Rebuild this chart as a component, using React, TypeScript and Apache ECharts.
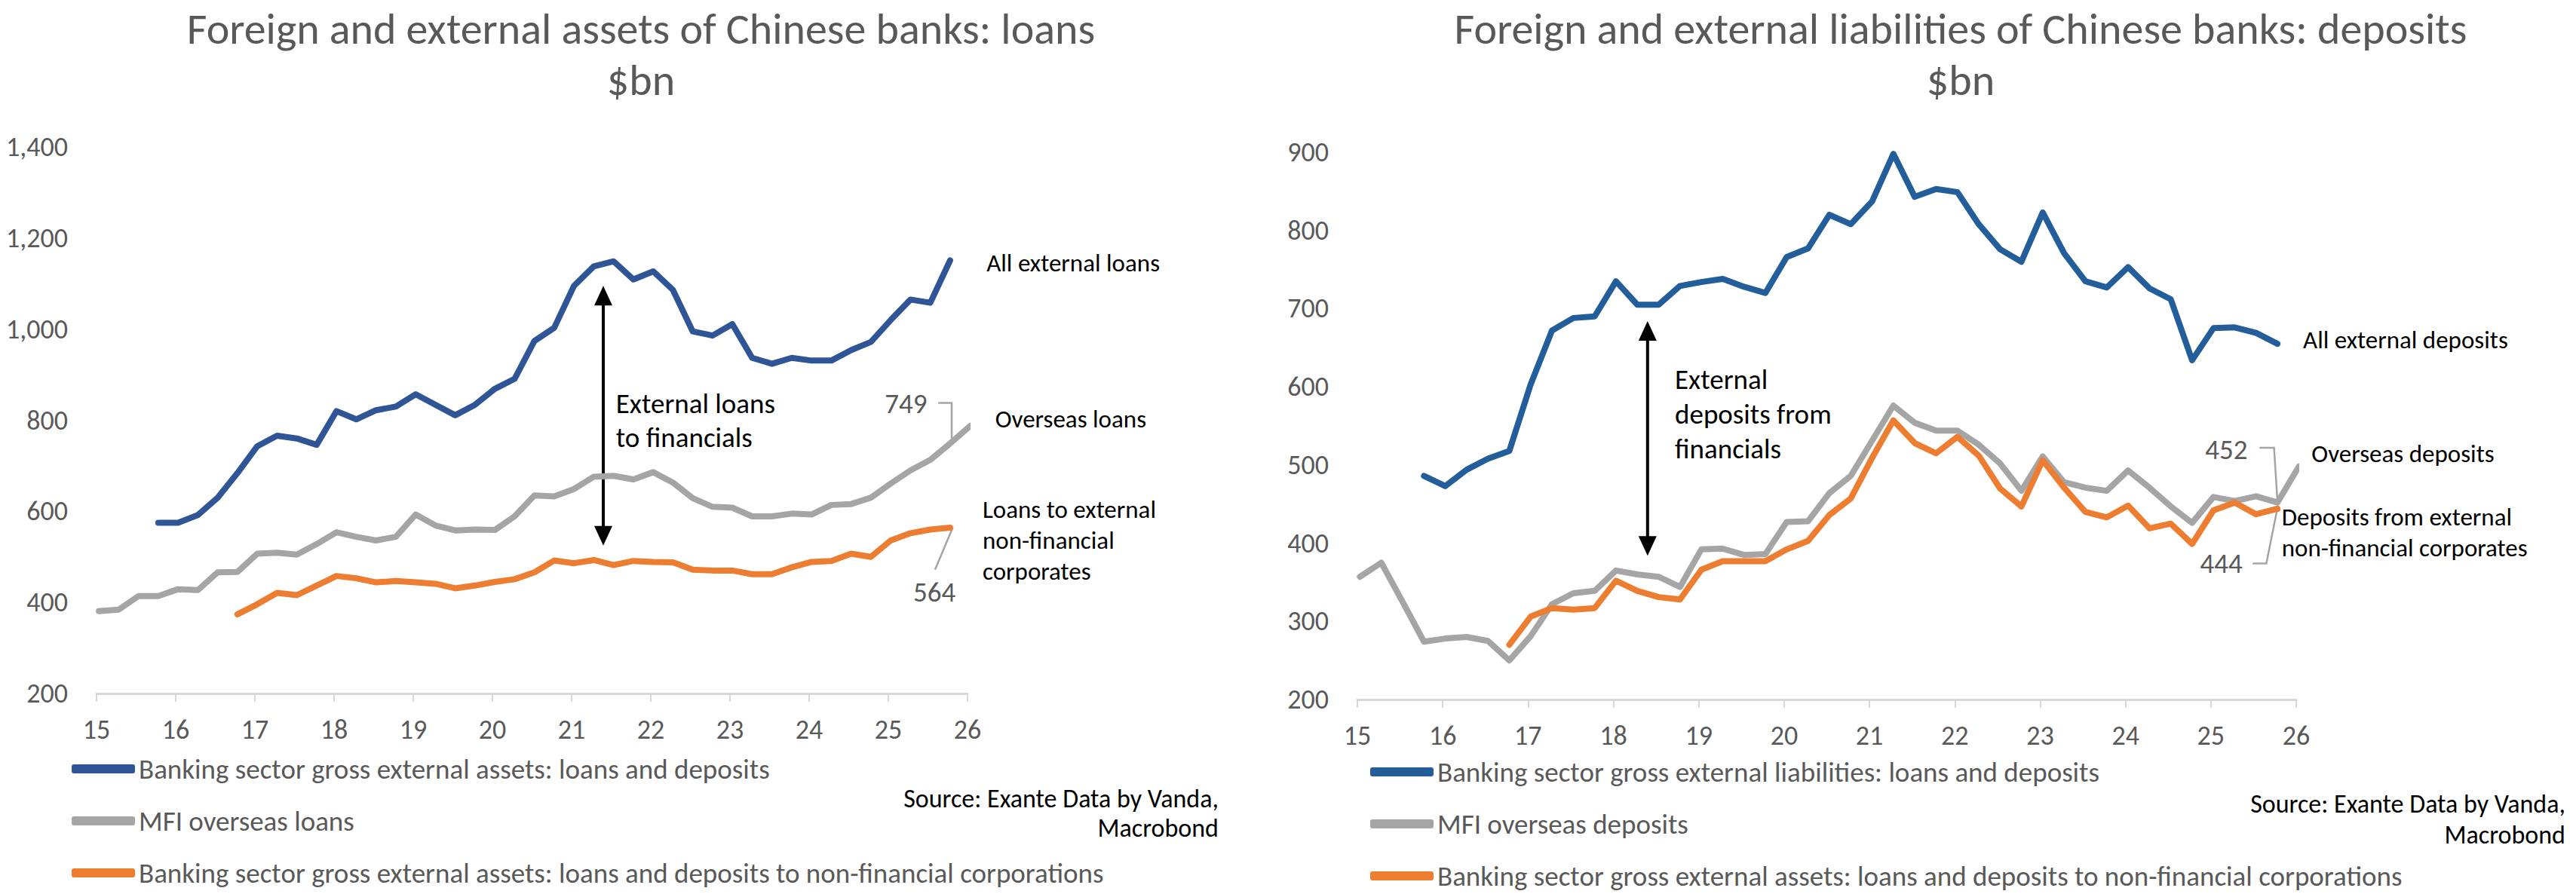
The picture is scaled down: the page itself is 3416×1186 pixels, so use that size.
import React, { useEffect, useRef } from "react";
import * as echarts from "echarts";

const FONT = "Carlito, Calibri, Lato, 'Open Sans', sans-serif";
const GREY_TEXT = "#595959";

// Quarterly observations, 2015Q1 .. 2026Q1 (45 quarters)
const quarters: string[] = [];
for (let y = 2015; y <= 2026; y++) for (let q = 1; q <= 4; q++) if (quarters.length < 45) quarters.push(`${y}Q${q}`);
const quarterPos = (label: string) => {
  const yr = parseInt(label.slice(2, 4), 10);
  const q = parseInt(label.slice(5), 10);
  return yr + 0.03 + (q - 1) * 0.25;
};

// ---------- Left chart: loans ($bn) ----------
const loansAllExternal: (number | null)[] = [
  null, null, null,
  575, 575, 592, 630, 684, 743, 766, 760, 746, 820, 802, 822, 830, 857, 834, 811, 834, 869, 891, 974, 1003,
  1095, 1138, 1149, 1109, 1127, 1086, 995, 986, 1011, 937, 924, 937, 931, 931, 954, 972, 1020, 1065, 1058, 1151,
  null,
];
const loansOverseas: (number | null)[] = [
  381, 384, 414, 414, 429, 427, 466, 467, 507, 509, 505, 528, 554, 544, 536, 544, 593, 569, 558, 560, 559, 589, 635, 633,
  649, 676, 678, 670, 686, 663, 629, 610, 608, 589, 589, 595, 593, 614, 616, 630, 661, 690, 713, 749, 787,
];
const loansNonFin: (number | null)[] = [
  null, null, null, null, null, null, null,
  374, 396, 421, 416, 437, 458, 453, 444, 447, 444, 441, 431, 437, 445, 451, 466, 492,
  486, 493, 482, 491, 489, 488, 472, 470, 470, 462, 462, 477, 489, 491, 507, 500, 536, 552, 560, 564,
  null,
];

// ---------- Right chart: deposits ($bn) ----------
const depAllExternal: (number | null)[] = [
  null, null, null,
  486, 473, 494, 508, 518, 603, 672, 688, 690, 735, 705, 705, 729, 734, 738, 728, 720, 766, 777, 820, 808,
  837, 898, 843, 853, 849, 808, 776, 760, 823, 771, 735, 727, 753, 726, 712, 634, 675, 676, 669, 655,
  null,
];
const depOverseas: (number | null)[] = [
  357, 375, 325, 274, 278, 280, 275, 250, 281, 322, 336, 339, 365, 360, 357, 344, 392, 393, 385, 386, 427, 428, 464, 486,
  531, 576, 554, 544, 544, 526, 502, 467, 511, 478, 471, 467, 493, 471, 447, 426, 459, 454, 460, 452, 498,
];
const depNonFin: (number | null)[] = [
  null, null, null, null, null, null, null,
  270, 306, 317, 315, 317, 352, 339, 331, 328, 366, 377, 377, 377, 392, 403, 436, 457,
  509, 557, 528, 515, 536, 512, 470, 447, 506, 471, 440, 433, 448, 419, 425, 399, 442, 452, 437, 444,
  null,
];

const leftNames = [
  "Banking sector gross external assets: loans and deposits",
  "MFI overseas loans",
  "Banking sector gross external assets: loans and deposits to non-financial corporations",
];
const rightNames = [
  "Banking sector gross external liabilities: loans and deposits",
  "MFI overseas deposits",
  "Banking sector gross external assets: loans and deposits to non-financial corporations",
];

const toPairs = (vals: (number | null)[]) =>
  vals.map((v, i) => (v == null ? null : [quarterPos(quarters[i]), v])).filter((p) => p !== null);

const BLUE_L = "#2F5597";
const BLUE_R = "#235E9B";
const GREY = "#A5A5A5";
const ORANGE = "#ED7D31";

const lineSeries = (name: string, vals: (number | null)[], color: string, idx: number) => ({
  type: "line",
  name,
  xAxisIndex: idx,
  yAxisIndex: idx,
  data: toPairs(vals),
  showSymbol: false,
  symbol: "none",
  lineStyle: { color, width: 8, join: "round", cap: "round" },
  itemStyle: { color },
  emphasis: { disabled: true },
});

const xAxis = (gridIndex: number) => ({
  type: "value",
  gridIndex,
  min: 15,
  max: 26,
  interval: 1,
  axisLine: { show: true, lineStyle: { color: "#D9D9D9", width: 3 } },
  axisTick: { show: true, length: 11, lineStyle: { color: "#D9D9D9", width: 2 } },
  axisLabel: { fontSize: 36, color: GREY_TEXT, fontFamily: FONT, margin: 30, formatter: (v: number) => String(v) },
  splitLine: { show: false },
});

const legendCfg = (names: string[], left: number, top: number) => ({
  data: names,
  orient: "vertical",
  left,
  top,
  height: 230,
  itemWidth: 84,
  itemHeight: 12,
  icon: "roundRect",
  itemGap: 27,
  padding: 0,
  selectedMode: false,
  textStyle: { fontSize: 37, color: GREY_TEXT, fontFamily: FONT, lineHeight: 42 },
});

export default function App() {
  const ref = useRef<HTMLDivElement>(null);
  useEffect(() => {
    if (!ref.current) return;
    const chart = echarts.init(ref.current, undefined, { renderer: "svg" });
    const option: any = {
      animation: false,
      backgroundColor: "#FFFFFF",
      grid: [
        { left: 128, top: 195, width: 1155, height: 725 },
        { left: 1800, top: 202, width: 1245, height: 726 },
      ],
      xAxis: [xAxis(0), xAxis(1)],
      yAxis: [
        {
          type: "value", gridIndex: 0, min: 200, max: 1400, interval: 200,
          axisLine: { show: false }, axisTick: { show: false }, splitLine: { show: false },
          axisLabel: { fontSize: 36, color: GREY_TEXT, fontFamily: FONT, margin: 38, formatter: (v: number) => v.toLocaleString("en-US") },
        },
        {
          type: "value", gridIndex: 1, min: 200, max: 900, interval: 100,
          axisLine: { show: false }, axisTick: { show: false }, splitLine: { show: false },
          axisLabel: { fontSize: 36, color: GREY_TEXT, fontFamily: FONT, margin: 38 },
        },
      ],
      legend: [legendCfg(leftNames, 95, 999), legendCfg(rightNames, 1817, 1003)],
      series: [
        lineSeries(leftNames[0], loansAllExternal, BLUE_L, 0),
        lineSeries(leftNames[1], loansOverseas, GREY, 0),
        lineSeries(leftNames[2], loansNonFin, ORANGE, 0),
        lineSeries(rightNames[0], depAllExternal, BLUE_R, 1),
        lineSeries(rightNames[1], depOverseas, GREY, 1),
        lineSeries(rightNames[2], depNonFin, ORANGE, 1),
      ],
    };
    chart.setOption(option);

    const px = (g: number, x: number, y: number) => chart.convertToPixel({ gridIndex: g }, [x, y]) as number[];
    const els: any[] = [];
    const text = (x: number, y: number, t: string, opts: any = {}) =>
      els.push({
        type: "text", x, y, silent: true,
        style: {
          text: t, fill: opts.fill || "#000", fontSize: opts.size || 34, fontFamily: FONT,
          align: opts.align || "left", verticalAlign: "middle", lineHeight: opts.lh || undefined,
        },
      });
    const dtext = (g: number, x: number, y: number, t: string, opts: any = {}) => {
      const p = px(g, x, y);
      text(p[0], p[1], t, opts);
    };
    const poly = (g: number, pts: number[][], color = GREY, w = 2.5) =>
      els.push({ type: "polyline", silent: true, shape: { points: pts.map((q) => px(g, q[0], q[1])) }, style: { stroke: color, lineWidth: w, fill: null } });
    const arrow = (g: number, x: number, yTop: number, yBot: number) => {
      const a = px(g, x, yTop);
      const b = px(g, x, yBot);
      const hw = 12, hh = 26;
      els.push({ type: "line", silent: true, shape: { x1: a[0], y1: a[1] + hh - 2, x2: b[0], y2: b[1] - hh + 2 }, style: { stroke: "#000", lineWidth: 4 } });
      els.push({ type: "polygon", silent: true, shape: { points: [[a[0], a[1]], [a[0] - hw, a[1] + hh], [a[0] + hw, a[1] + hh]] }, style: { fill: "#000" } });
      els.push({ type: "polygon", silent: true, shape: { points: [[b[0], b[1]], [b[0] - hw, b[1] - hh], [b[0] + hw, b[1] - hh]] }, style: { fill: "#000" } });
    };

    // Titles
    text(850, 38, "Foreign and external assets of Chinese banks: loans", { size: 58, fill: GREY_TEXT, align: "center" });
    text(850, 106, "$bn", { size: 58, fill: GREY_TEXT, align: "center" });
    text(2600, 38, "Foreign and external liabilities of Chinese banks: deposits", { size: 58, fill: GREY_TEXT, align: "center" });
    text(2600, 106, "$bn", { size: 58, fill: GREY_TEXT, align: "center" });

    // Left annotations
    arrow(0, 21.4, 1095, 525);
    dtext(0, 21.56, 799, "External loans\nto financials", { size: 37, lh: 45 });
    dtext(0, 26.24, 1145, "All external loans", { size: 33 });
    dtext(0, 26.35, 803, "Overseas loans", { size: 33 });
    dtext(0, 26.19, 536, "Loans to external\nnon-financial\ncorporates", { size: 33, lh: 41 });
    dtext(0, 25.49, 836, "749", { size: 37, fill: GREY_TEXT, align: "right" });
    poly(0, [[25.63, 838], [25.8, 838], [25.8, 760]]);
    dtext(0, 25.85, 422, "564", { size: 37, fill: GREY_TEXT, align: "right" });
    poly(0, [[25.59, 472], [25.815, 565]]);

    // Right annotations
    arrow(1, 18.4, 684, 384);
    dtext(1, 18.72, 565, "External\ndeposits from\nfinancials", { size: 37, lh: 46 });
    dtext(1, 26.08, 660, "All external deposits", { size: 33 });
    dtext(1, 26.18, 514, "Overseas deposits", { size: 33 });
    dtext(1, 25.83, 414, "Deposits from external\nnon-financial corporates", { size: 33, lh: 41 });
    dtext(1, 25.43, 520, "452", { size: 37, fill: GREY_TEXT, align: "right" });
    poly(1, [[25.57, 522], [25.74, 522], [25.78, 454]]);
    dtext(1, 25.37, 374, "444", { size: 37, fill: GREY_TEXT, align: "right" });
    poly(1, [[25.49, 374], [25.65, 374], [25.78, 445]]);

    // Sources
    text(1616, 1059, "Source: Exante Data by Vanda,", { size: 34, align: "right" });
    text(1616, 1098, "Macrobond", { size: 34, align: "right" });
    text(3402, 1066, "Source: Exante Data by Vanda,", { size: 34, align: "right" });
    text(3402, 1107, "Macrobond", { size: 34, align: "right" });

    chart.setOption({ graphic: { elements: els } });
    return () => chart.dispose();
  }, []);
  return <div ref={ref} style={{ position: "absolute", left: 0, top: 0, width: 3416, height: 1186, background: "#fff" }} />;
}
